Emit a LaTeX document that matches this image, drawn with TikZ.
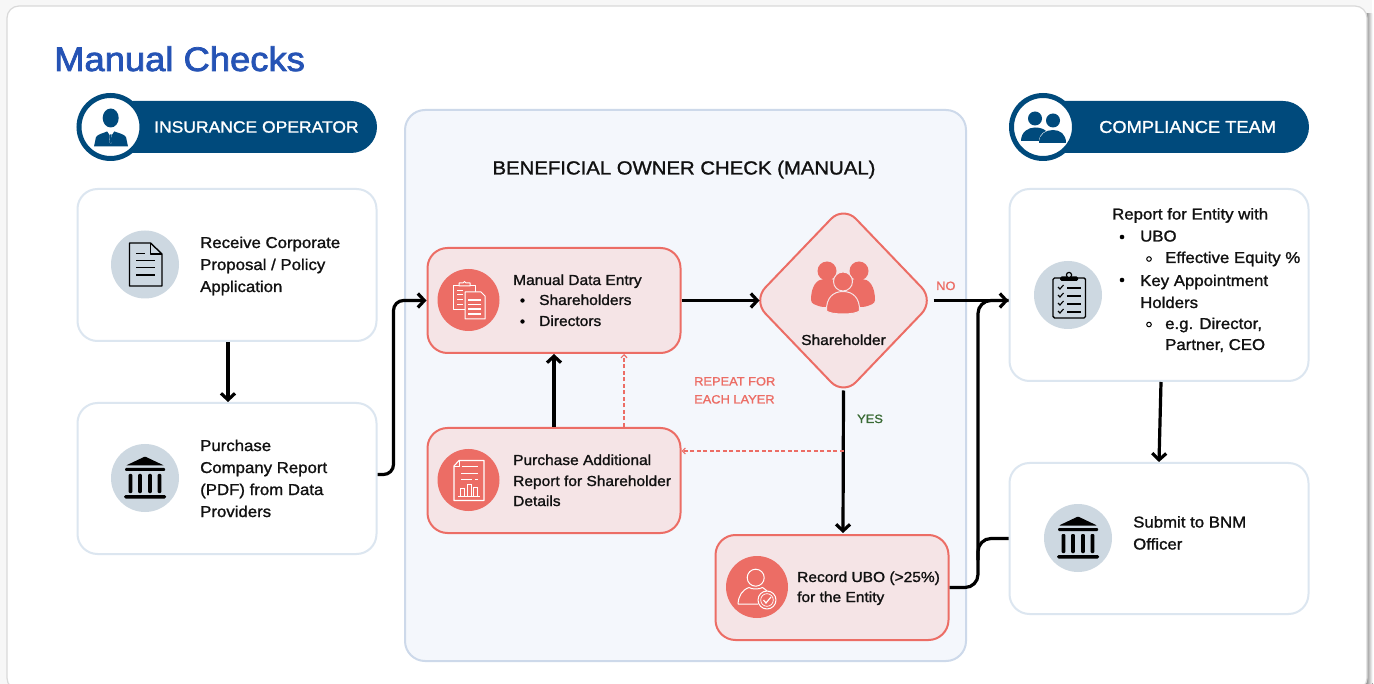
\documentclass[tikz,border=0pt]{standalone}
\usepackage{fontspec}
\usetikzlibrary{arrows.meta,shapes.geometric,calc}
\setmainfont{Liberation Sans}
\newfontfamily\medfont[FakeBold=1.3,FakeStretch=1.07]{Liberation Sans}
\newfontfamily\titlefont[FakeBold=2.2,FakeStretch=1.07]{Liberation Sans}
\definecolor{navy}{HTML}{004A7C}
\definecolor{titleblue}{HTML}{2553B5}
\definecolor{edgeblue}{HTML}{DCE6F0}
\definecolor{greycirc}{HTML}{CDD8E1}
\definecolor{panelfill}{HTML}{F4F7FC}
\definecolor{paneledge}{HTML}{CDD9EA}
\definecolor{pinkfill}{HTML}{F5E4E6}
\definecolor{coral}{HTML}{EC6D65}
\definecolor{yesgreen}{HTML}{3A6B35}
\definecolor{inkc}{HTML}{111111}
\tikzset{
  whitebox/.style={draw=edgeblue,line width=2pt,fill=white,rounded corners=20pt,inner sep=0pt,minimum width=299pt},
  pinkbox/.style={draw=coral,line width=2pt,fill=pinkfill,rounded corners=20pt,inner sep=0pt,minimum height=105pt},
  flow/.style={draw=black,line width=3.2pt,-{Straight Barb[length=6.5pt,width=14pt,line width=3.2pt]}},
  flowplain/.style={draw=black,line width=3.2pt},
  dashflow/.style={draw=coral,line width=1.2pt,dash pattern=on 4pt off 2.5pt,-{Straight Barb[length=3pt,width=6pt,line width=1.2pt]}},
  txt/.style={anchor=base west,inner sep=0pt,font=\medfont\fontsize{15.7}{18}\selectfont,text=inkc},
  ptxt/.style={txt,font=\medfont\fontsize{14.5}{18}\selectfont},
  lab/.style={anchor=base west,inner sep=0pt,font=\medfont\fontsize{12}{15}\selectfont},
  pilltext/.style={anchor=west,inner sep=0pt,font=\medfont\fontsize{16.35}{20}\selectfont,text=white},
  ring/.style={circle,draw=navy,line width=5pt,fill=white,minimum size=63pt,inner sep=0pt},
  greydot/.style={circle,fill=greycirc,minimum size=68pt,inner sep=0pt},
  reddot/.style={circle,fill=coral,minimum size=62pt,inner sep=0pt},
  pill/.style={fill=navy,rounded corners=26pt,inner sep=0pt,minimum height=52pt},
  blackicon/.style={draw=black,line width=1.4pt,line join=round},
  whiteicon/.style={draw=white,line width=1pt,line join=round},
}
\newcommand{\bankicon}[1]{\begin{scope}[shift={(#1)}]
  \fill[black,rounded corners=.8pt] (0,-21.5)--(19,-12.5)--(-19,-12.5)--cycle;
  \fill[black,rounded corners=1pt] (-20,-10)rectangle(20,-7);
  \foreach \cx in {-14.5,-5,5,14.5}{\fill[black,rounded corners=1pt] (\cx-1.9,-4)rectangle(\cx+1.9,15);}
  \fill[black,rounded corners=1.5pt] (-21,17)rectangle(21,20.5);
\end{scope}}
\begin{document}
\begin{tikzpicture}[x=1pt,y=-1pt]
\useasboundingbox (0,0) rectangle (1374,684);
\fill[white!97!black] (0,0) rectangle (1374,684);
\fill[white] (1372,0) rectangle (1374,684);
\fill[left color=black!45,right color=white] (1366,14) rectangle (1372.5,684);
\draw[draw=black!15,line width=1.2pt,fill=white,rounded corners=12pt] (7,6) -- (1367,6) -- (1367,690) -- (7,690) -- cycle;

\node[anchor=base west,inner sep=0pt,font=\titlefont\fontsize{34}{40}\selectfont,text=titleblue] (title) at (54,71) {Manual Checks};

% Left pill
\node[pill,minimum width=270pt] (pillL) at (242,127) {};
\node[ring] (ringL) at (110.5,127) {};
\node[pilltext] (pillLt) at (154,127) {INSURANCE OPERATOR};
\fill[navy] (110.7,118) ellipse (8pt and 9.5pt);
\fill[navy] (94,146.5) -- (96,137) .. controls (98,134) and (104,133) .. (107,131.5) -- (110.7,135) -- (114.5,131.5) .. controls (118,133) and (124,134) .. (126,137) -- (128,146.5) -- cycle;
\fill[white] (107.5,131.5) -- (113.8,131.5) -- (111.8,135) -- (112,142) -- (110.7,144) -- (109.4,142) -- (109.6,135) -- cycle;
\fill[navy] (109.8,134.5) -- (111.6,134.5) -- (112,142) -- (110.7,144) -- (109.4,142) -- cycle;

% Right pill
\node[pill,minimum width=270pt] (pillR) at (1174,127) {};
\node[ring] (ringR) at (1043,127) {};
\node[pilltext,font=\medfont\fontsize{17.1}{20}\selectfont] (pillRt) at (1099,127) {COMPLIANCE TEAM};
\fill[navy] (1035,118.5) circle (7pt);
\fill[navy] (1053,120.5) circle (7pt);
\fill[navy] (1021,141) .. controls (1021,132) and (1028,127.5) .. (1035,127.5) .. controls (1040,127.5) and (1044,129) .. (1046,131) .. controls (1041,133) and (1039,137) .. (1039,141) -- cycle;
\fill[navy] (1039,143) .. controls (1039,134) and (1046,130) .. (1053,130) .. controls (1060,130) and (1066,134) .. (1066,143) -- cycle;

% Centre panel
\node[draw=paneledge,line width=2pt,fill=panelfill,rounded corners=20pt,minimum width=561pt,minimum height=551pt,inner sep=0pt] (panel) at (685.5,385.5) {};
\node[anchor=base,inner sep=0pt,font=\medfont\fontsize{19}{22}\selectfont,text=inkc] (paneltitle) at (684,174.5) {BENEFICIAL OWNER CHECK (MANUAL)};

% White boxes
\node[whitebox,minimum height=152pt] (recv) at (227,265) {};
\node[whitebox,minimum height=151pt] (purch) at (227,478.5) {};
\node[whitebox,minimum height=192pt] (report) at (1159,285) {};
\node[whitebox,minimum height=151pt] (submit) at (1159,538.5) {};

\node[greydot] (c1) at (145,264.5) {};
\node[greydot] (c2) at (145,478) {};
\node[greydot] (c3) at (1068,295) {};
\node[greydot] (c4) at (1078,538) {};

% doc icon
\draw[blackicon] (129.5,243) -- (150.5,243) -- (162,254) -- (162,286) -- (129.5,286) -- cycle;
\draw[blackicon] (150.5,243) -- (150.5,254) -- (162,254);
\draw[black,line width=1.4pt] (136,253.5) -- (145,253.5) (136,260.5) -- (155,260.5) (136,267.5) -- (155,267.5) (136,275) -- (155,275);
\bankicon{145,478}
\bankicon{1078,538}
% clipboard icon
\draw[blackicon,rounded corners=1.5pt] (1053,278) rectangle (1085.5,318);
\fill[black,rounded corners=1.5pt] (1060,276.5) rectangle (1078,281);
\draw[black,line width=1.2pt,fill=greycirc] (1069,275) circle (2.6pt);
\foreach \ly in {288,296,304,312}{
  \draw[black,line width=1.3pt] (1067,\ly) -- (1081,\ly);
  \draw[black,line width=1.1pt] (1058,\ly-1) -- (1060,\ly+1) -- (1063.5,\ly-3);
}

% Box texts
\node[txt] (t1a) at (200,248) {Receive Corporate};
\node[txt] (t1b) at (200,270) {Proposal / Policy};
\node[txt] (t1c) at (200,292) {Application};
\node[txt] (t2a) at (200,451) {Purchase};
\node[txt] (t2b) at (200,473) {Company Report};
\node[txt] (t2c) at (200,495) {(PDF) from Data};
\node[txt] (t2d) at (200,517) {Providers};

\node[txt] (t3a) at (1112,219.5) {Report for Entity with};
\fill[black] (1122,237) circle (2.3pt);
\node[txt] (t3b) at (1140,241.5) {UBO};
\draw[black,line width=1pt] (1149,259) circle (2.3pt);
\node[txt] (t3c) at (1165,263) {Effective Equity \%};
\fill[black] (1122,280) circle (2.3pt);
\node[txt] (t3d) at (1140,286) {Key Appointment};
\node[txt] (t3e) at (1140,308) {Holders};
\draw[black,line width=1pt] (1149,324.5) circle (2.3pt);
\node[txt] (t3f) at (1165,329) {e.g. Director,};
\node[txt] (t3g) at (1165,350) {Partner, CEO};
\node[txt] (t4a) at (1133,527.5) {Submit to BNM};
\node[txt] (t4b) at (1133,549.5) {Officer};

% Pink boxes
\node[pinkbox,minimum width=253pt] (entry) at (554,300.5) {};
\node[pinkbox,minimum width=253pt] (addl) at (554,480.5) {};
\node[pinkbox,minimum width=233pt] (ubo) at (832,587.5) {};
\node[draw=coral,line width=2pt,fill=pinkfill,diamond,rounded corners=18pt,minimum width=182pt,minimum height=190pt,inner sep=0pt] (dec) at (843.5,300.5) {};

\node[reddot] (r1) at (468.5,300) {};
\node[reddot] (r2) at (468.5,480) {};
\node[reddot] (r3) at (757,587) {};

% stacked docs icon
\draw[whiteicon] (459,286) -- (453,286) -- (453,310) -- (465,310);
\draw[whiteicon] (470,286) -- (475,286) -- (475,292);
\draw[whiteicon] (459,286) -- (459,283) -- (463,283) -- (464.5,281.5) -- (466,283) -- (470,283) -- (470,286) -- cycle;
\foreach \ly in {291,295,300,305}{\draw[white,line width=1pt] (457,\ly) -- (463,\ly);}
\draw[whiteicon,fill=coral] (465,292) -- (481,292) -- (485,296) -- (485,319) -- (465,319) -- cycle;
\foreach \ly in {300,304.5,309,314}{\draw[white,line width=1.1pt] (468,\ly) -- (481,\ly);}
% report icon
\draw[whiteicon,line width=1.1pt] (459,460.5) -- (484,460.5) -- (484,500.5) -- (454,500.5) -- (454,466) -- cycle;
\draw[whiteicon,line width=.9pt] (459,460.5) -- (459,466) -- (454,466);
\draw[white,line width=1pt] (462,467) -- (478,467) (461,474) -- (478,474) (461,479) -- (472,479) (475,479) -- (478,479);
\draw[white,line width=1pt] (460,496) -- (460,488.5) -- (464,488.5) -- (464,496) (467,496) -- (467,484.5) -- (471,484.5) -- (471,496) (473.5,496) -- (473.5,487) -- (477.5,487) -- (477.5,496) (458,496.5) -- (480,496.5);
% user-check icon
\draw[whiteicon] (755.7,577.7) circle (8.5pt);
\draw[whiteicon] (758,604) -- (738,604) .. controls (738.5,596) and (742,590) .. (749,587.5) .. controls (752,589.5) and (759,589.5) .. (762.5,587.5) .. controls (764,588.5) and (766,590) .. (767,591);
\draw[whiteicon] (767,600) circle (9pt);
\draw[white,line width=.7pt] (767,600) circle (6.3pt);
\draw[white,line width=1.2pt] (763.5,600) -- (766,603) -- (771,597);

% Diamond people icon
\fill[coral] (827,271) circle (9.5pt);
\fill[coral] (859,271) circle (9.5pt);
\fill[coral,rounded corners=3pt] (811,303) .. controls (811,286) and (817,279) .. (827,279) .. controls (832,279) and (838,281) .. (841,286) -- (845,286) .. controls (848,281) and (854,279) .. (859,279) .. controls (869,279) and (875,286) .. (875,303) -- (865,307) -- (821,307) -- cycle;
\draw[coral,fill=coral,line width=1pt,draw=pinkfill] (843,281.5) circle (9.5pt);
\draw[draw=pinkfill,fill=coral,line width=1pt] (826.5,311) .. controls (826,298) and (833,291.5) .. (843,291.5) .. controls (853,291.5) and (860,298) .. (859.5,311) .. controls (855,315) and (831,315) .. (826.5,311) -- cycle;

\node[ptxt,anchor=base] (dect) at (843.5,345) {Shareholder};

\node[ptxt] (tAa) at (513,285) {Manual Data Entry};
\fill[black] (522.5,300.5) circle (2.2pt);
\fill[black] (522.5,321.5) circle (2.2pt);
\node[ptxt] (tAb) at (539,305) {Shareholders};
\node[ptxt] (tAc) at (539,326) {Directors};
\node[ptxt] (tBa) at (513,465) {Purchase Additional};
\node[ptxt] (tBb) at (513,486) {Report for Shareholder};
\node[ptxt] (tBc) at (513,506) {Details};
\node[ptxt] (tCa) at (797,582) {Record UBO (>25\%)};
\node[ptxt] (tCb) at (797,602) {for the Entity};

% Labels
\node[lab,text=coral] (rep1) at (694,385.5) {REPEAT FOR};
\node[lab,text=coral] (rep2) at (694,403.5) {EACH LAYER};
\node[lab,text=coral] (lno) at (936,290) {NO};
\node[lab,text=yesgreen] (lyes) at (857,423) {YES};

% Connectors
\draw[flow] ([xshift=1pt]recv.south) -- ([xshift=1pt]purch.north);
\draw[flow,rounded corners=10pt] ([yshift=4pt]purch.east) -- ++(16,0) |- (entry.west);
\draw[flow] (entry.east) -- ([xshift=8pt]dec.west);
\draw[flow] (addl.north) -- (entry.south);
\draw[dashflow] ([xshift=70pt]addl.north) -- ([xshift=70pt]entry.south);
\draw[flow] ([yshift=6pt]dec.south) -- ([yshift=1pt,xshift=-.5pt]ubo.north -| dec.south);
\coordinate (dashstart) at (843.5,451);
\draw[dashflow] (dashstart) -- (addl.east |- dashstart);
\draw[flow] ([xshift=-2pt]dec.east) -- (report.west |- dec.east);
\coordinate (busbot) at (978,300.5);
\draw[flowplain,rounded corners=13pt] (ubo.east) -- (978,587.5) -- (busbot) -- (report.west |- dec.east);
\draw[flowplain,rounded corners=13pt] (submit.west) -- (978,538.5) -- (978,560);
\draw[flow] ([xshift=2pt]report.south) -- ([xshift=0pt]submit.north);
\end{tikzpicture}
\end{document}
